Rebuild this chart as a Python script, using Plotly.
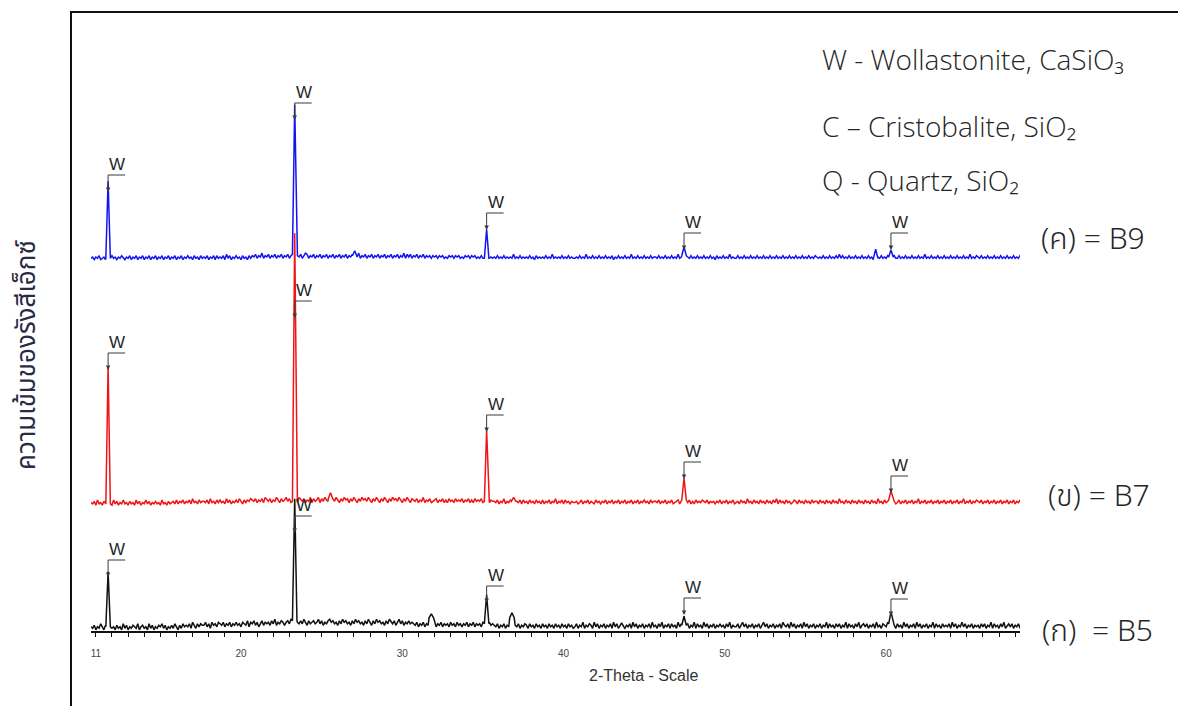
import plotly.graph_objects as go

# ---- scan sampling (2-theta, degrees) ----
two_theta_start = 10.7
two_theta_step = 0.1
two_theta_range = [10.7, 68.3]

# ---- background counts per step, one digit (0-9) per sample ----
b5_background = "".join([
    "32413253142352314231524132432513423152413243524132",
    "42531425343526425354463526453654635463546453654736",
    "57463574656475846576467585746575864756756857465786",
    "75647586756475867564758647586756475865746857465756",
    "54635463547946354635453645364535463546354536453645",
    "43524352435924352435425342534253425342534253425342",
    "35243624354263524352435263524352435263524352435263",
    "42536243525342635243524362534263524352435342536243",
    "35246352435243524635243524352643526352435263524352",
    "43524362534253524362534253624535243526342543625342",
    "53426352435263524352436253425343526352436352435243",
    "42535243625342536245352435263425436253424352436253",
])
b7_background = "".join([
    "32415231424231524132523142315241325241324231523142",
    "34252435243526342534435263425353426352435364253546",
    "54635463754635475364574635463754635473645736475463",
    "64753647563647536475647536475364753647564753647536",
    "54635473546345635463536453645463546353645463546354",
    "43524362435342435253425342534252435243624352534243",
    "34235243524325342435243524352435243524352435342534",
    "43524352435234524352352425343543524342435243524352",
    "34253426342534253425342536253425342354253425342534",
    "42534253425342634253425342534253425342634253425342",
    "35243524352436243524352435243524352435243624352435",
    "43524352435243524352435243524352435243524352435243",
])
b9_background = "".join([
    "34243523424325342435324352435243524352435243524352",
    "43524352435342534253435243525343526352435342534253",
    "54635473546354635463546354635463576354635463546354",
    "63546354635463547354635463546354635463546354736463",
    "54635463545354535453435453545343545354534353435343",
    "43534353434363435343435342534343534363434353435343",
    "34353436343534353435343524353435343634353435343534",
    "43534353435343634353435343534353435342534353436343",
    "35343534353435343534353435343534353435343534353435",
    "43435343534353635343534353435343534253435343534353",
    "35343534353435343634353435343534353435343534363435",
    "43534353435343534353435343534353435343534353435343",
])

# ---- wollastonite reflections (2-theta) and net peak heights ----
w_positions = [11.76, 23.33, 35.23, 47.47, 60.30]
b5_w_heights = [55, 122, 29, 9, 12]
b7_w_heights = [138, 268, 71, 22, 9]
b9_w_heights = [77, 150, 29, 9, 7]

# weak unlabelled reflections
b5_minor_positions = [31.8, 36.8, 43.6]
b5_minor_heights = [4, 5, 4]
b7_minor_positions = [25.55, 36.9]
b7_minor_heights = [6, 4]
b9_minor_positions = [27.05, 59.35]
b9_minor_heights = [5, 9]

# intensity level where each "W" marker arrow points
b5_marker_levels = [54, 98, 28, 16, 15]
b7_marker_levels = [261, 313, 199, 152, 138]
b9_marker_levels = [439, 511, 401, 381, 381]

# vertical stacking of the three patterns (a.u.) and background digit scale
b5_offset, b7_offset, b9_offset = -0.3, 124.5, 368.8
b5_scale, b7_scale, b9_scale = 1.5, 1.3, 1.3

major_ticks = [20, 30, 40, 50, 60]
label_ticks = [11, 20, 30, 40, 50, 60]

# ---- geometry (pixels) ----
W, H = 1178, 706
M_L, M_R, M_T, M_B = 91, 1178 - 1020, 20, 75
PLOT_W, PLOT_H = W - M_L - M_R, H - M_T - M_B


def px_to_paper_x(px):
    return (px - M_L) / PLOT_W


def px_to_paper_y(py):
    return (H - M_B - py) / PLOT_H


def build_pattern(background, offset, scale, positions, heights, half_width=0.14):
    xs = [two_theta_start + i * two_theta_step for i in range(len(background))]
    ys = [offset + int(c) * scale for c in background]
    pts = list(zip(xs, ys))
    for p, h in zip(positions, heights):
        i = round((p - two_theta_start) / two_theta_step)
        base = ys[i]
        pts = [(x, y) for x, y in pts if abs(x - p) >= half_width]
        pts += [(p - half_width, base), (p, base + h), (p + half_width, base)]
    pts.sort()
    return [q[0] for q in pts], [q[1] for q in pts]


samples = [
    ("B9", b9_background, b9_offset, b9_scale, b9_w_heights, b9_minor_positions, b9_minor_heights, "#1414f0"),
    ("B5", b5_background, b5_offset, b5_scale, b5_w_heights, b5_minor_positions, b5_minor_heights, "#111111"),
    ("B7", b7_background, b7_offset, b7_scale, b7_w_heights, b7_minor_positions, b7_minor_heights, "#f01414"),
]

fig = go.Figure()
for name, bg, off, sc, wh, mp, mh, col in samples:
    x, y = build_pattern(bg, off, sc, w_positions + mp, wh + mh)
    fig.add_trace(go.Scatter(x=x, y=y, mode="lines", name=name,
                             line=dict(color=col, width=1.5), hoverinfo="skip"))

# "W" markers: letter above a short bar, arrow down to the reflection
annotations = []
shapes = []
ARROW_LEN = 17
BAR_LEN = 17
for levels in (b5_marker_levels, b7_marker_levels, b9_marker_levels):
    for pos, lvl in zip(w_positions, levels):
        annotations.append(dict(
            x=pos, y=lvl, xref="x", yref="y", text="W", showarrow=True,
            ax=0, ay=-ARROW_LEN, xanchor="left", yanchor="bottom",
            arrowhead=2, arrowsize=0.9, arrowwidth=1, arrowcolor="#3a3a3a",
            standoff=0, startstandoff=0, borderpad=0,
            font=dict(family="Liberation Sans, Arial", size=17, color="#262626")))
        shapes.append(dict(
            type="line", xref="x", yref="y",
            xsizemode="pixel", xanchor=pos, x0=0, x1=BAR_LEN,
            ysizemode="pixel", yanchor=lvl, y0=ARROW_LEN, y1=ARROW_LEN,
            line=dict(color="#3a3a3a", width=1)))

# phase key
key_font = dict(family="Open Sans, DejaVu Sans", size=28, color="#262626", weight=300)
for txt, py in [("W - Wollastonite, CaSiO₃", 59),
                ("C – Cristobalite, SiO₂", 126),
                ("Q - Quartz, SiO₂", 180)]:
    annotations.append(dict(x=px_to_paper_x(820), y=px_to_paper_y(py), xref="paper", yref="paper",
                            text=txt, showarrow=False, xanchor="left", yanchor="middle",
                            font=key_font))

# sample names
thai_font = "Noto Sans Thai, Loma, Garuda, Norasi, Open Sans, DejaVu Sans, sans-serif"
for txt, px, py in [("(ค) = B9", 1039, 240), ("(ข) = B7", 1046, 497), ("(ก)  = B5", 1040, 632)]:
    annotations.append(dict(x=px_to_paper_x(px), y=px_to_paper_y(py), xref="paper", yref="paper",
                            text=txt, showarrow=False, xanchor="left", yanchor="middle",
                            font=dict(family=thai_font, size=30, color="#262626", weight=300)))

# axis titles
annotations.append(dict(x=px_to_paper_x(643), y=px_to_paper_y(675), xref="paper", yref="paper",
                        text="2-Theta - Scale", showarrow=False, xanchor="center", yanchor="middle",
                        font=dict(family="Liberation Sans, Arial", size=16, color="#333333")))
annotations.append(dict(x=px_to_paper_x(27), y=px_to_paper_y(355), xref="paper", yref="paper",
                        text="ความเข้มของรังสีเอ็กซ์", showarrow=False, textangle=-90,
                        xanchor="center", yanchor="middle",
                        font=dict(family=thai_font, size=26, color="#2a2a44")))

# outer frame
shapes.append(dict(type="rect", xref="paper", yref="paper",
                   x0=px_to_paper_x(71), x1=px_to_paper_x(1300),
                   y0=px_to_paper_y(800), y1=px_to_paper_y(12),
                   line=dict(color="#111111", width=2), fillcolor="rgba(0,0,0,0)"))

fig.update_layout(
    width=W, height=H, autosize=False,
    margin=dict(l=M_L, r=M_R, t=M_T, b=M_B, pad=0),
    paper_bgcolor="white", plot_bgcolor="white",
    showlegend=False,
    annotations=annotations, shapes=shapes,
    xaxis=dict(range=two_theta_range, showgrid=False, zeroline=False,
               showline=True, linecolor="#111111", linewidth=1.5,
               ticks="outside", tickvals=label_ticks, ticktext=[str(v) for v in label_ticks],
               ticklen=4, tickwidth=1, tickcolor="#111111",
               tickfont=dict(family="Liberation Sans, Arial", size=10, color="#444444"),
               ticklabelstandoff=8,
               minor=dict(dtick=1, tick0=0, ticks="outside", ticklen=4, tickwidth=1,
                          tickcolor="#111111", showgrid=False),
               automargin=False),
    xaxis2=dict(range=two_theta_range, overlaying="x", anchor="y", side="bottom",
                showgrid=False, zeroline=False, showline=False,
                ticks="outside", tickvals=major_ticks, ticklen=9, tickwidth=1,
                tickcolor="#111111", showticklabels=False, automargin=False),
    yaxis=dict(range=[0, PLOT_H], visible=False, showticklabels=False, ticks="",
               showgrid=False, zeroline=False, automargin=False),
)

fig.write_html("out.html")
